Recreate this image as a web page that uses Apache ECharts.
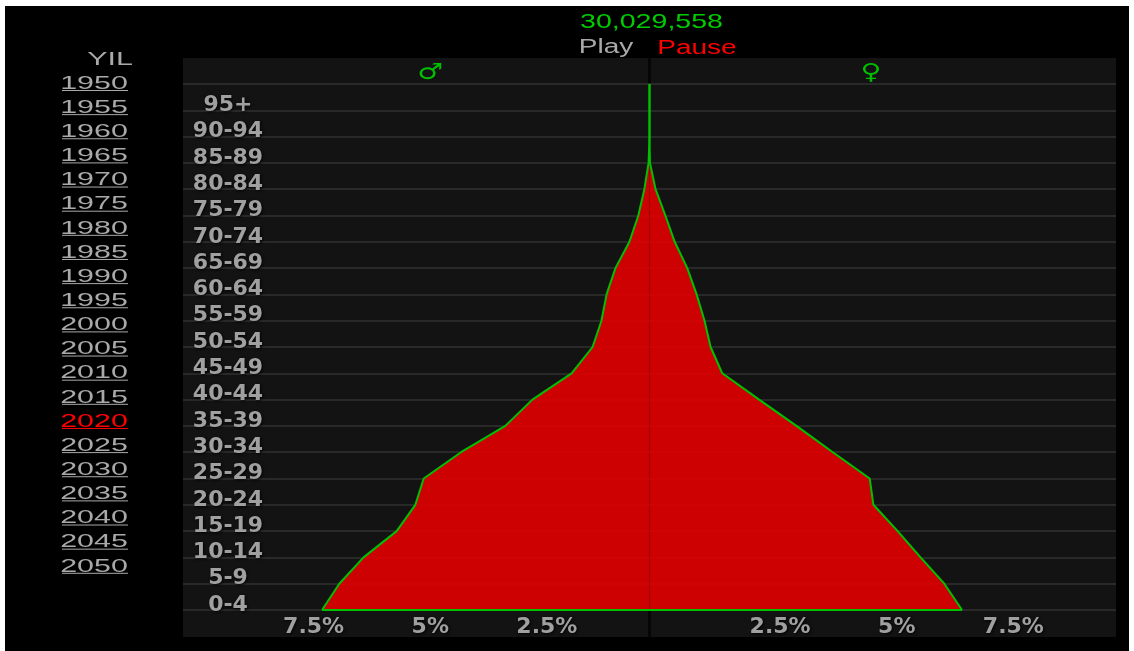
<!DOCTYPE html>
<html>
<head>
<meta charset="utf-8">
<title>Nüfus piramidi</title>
<script src="https://cdn.jsdelivr.net/npm/echarts@6/dist/echarts.min.js"></script>
<style>
  html, body { margin: 0; padding: 0; background: #fff; }
  #pyramid { position: absolute; left: 5px; top: 6px; width: 1124px; height: 645px; }
</style>
</head>
<body>
<div id="pyramid"></div>
<script>
// yaş grubu başlangıçları, 100 = üst kapanış noktası
const agePoints = [0, 5, 10, 15, 20, 25, 30, 35, 40, 45, 50, 55, 60, 65, 70, 75, 80, 85, 90, 95, 100];
const ageGroups = ['0-4', '5-9', '10-14', '15-19', '20-24', '25-29', '30-34', '35-39', '40-44', '45-49',
  '50-54', '55-59', '60-64', '65-69', '70-74', '75-79', '80-84', '85-89', '90-94', '95+'];
// toplam nüfusa oranı (%)
const malePct = [7.02, 6.65, 6.13, 5.42, 5.02, 4.84, 4.04, 3.09, 2.51, 1.67, 1.22, 1.03, 0.92, 0.73, 0.43, 0.24, 0.11, 0.02, 0, 0, 0];
const femalePct = [6.70, 6.32, 5.81, 5.32, 4.80, 4.72, 3.93, 3.15, 2.35, 1.56, 1.31, 1.18, 1.01, 0.81, 0.54, 0.34, 0.13, 0.01, 0, 0, 0];
const xTickValues = [-7.5, -5, -2.5, 2.5, 5, 7.5];
const xTickLabels = ['7.5%', '5%', '2.5%', '2.5%', '5%', '7.5%'];
const years = [1950, 1955, 1960, 1965, 1970, 1975, 1980, 1985, 1990, 1995, 2000,
  2005, 2010, 2015, 2020, 2025, 2030, 2035, 2040, 2045, 2050];
const currentYear = 2020;
const totalPop = '30,029,558';

const chart = echarts.init(document.getElementById('pyramid'));

const labelStyle = {
  color: '#a0a0a0',
  fontFamily: 'DejaVu Sans',
  fontWeight: 'bold',
  fontSize: 22,
  textShadowColor: 'rgba(0,0,0,0.9)',
  textShadowBlur: 3,
  textShadowOffsetX: 1,
  textShadowOffsetY: 1
};

// sol taraftaki yıl listesi
const yearItems = [];
years.forEach(function (yr, i) {
  const y = 77.5 + i * 24.14;
  const c = yr === currentYear ? '#ff0000' : '#a9a9a9';
  yearItems.push({
    type: 'text', x: 89, y: y, scaleX: 1.6, z: 10,
    style: { text: String(yr), fill: c, fontSize: 19, fontFamily: 'Liberation Sans', align: 'center', verticalAlign: 'middle' }
  });
  yearItems.push({
    type: 'line', z: 10,
    shape: { x1: 57, y1: y + 7, x2: 123, y2: y + 7 },
    style: { stroke: c, lineWidth: 1 }
  });
});

const option = {
  backgroundColor: '#000',
  animation: false,
  grid: { left: 178, right: 13, top: 78, bottom: 41 },
  xAxis: {
    type: 'value',
    min: -10,
    max: 10,
    interval: 2.5,
    axisLine: { show: false },
    axisTick: { show: false },
    splitLine: { show: false },
    axisLabel: Object.assign({}, labelStyle, {
      margin: 6,
      padding: [0, 0, 0, 28],
      formatter: function (v) {
        const i = xTickValues.indexOf(v);
        return i < 0 ? '' : xTickLabels[i];
      }
    })
  },
  yAxis: {
    type: 'category',
    boundaryGap: false,
    data: agePoints.map(String),
    axisLine: { show: false, onZero: false },
    axisTick: { show: false },
    splitLine: { show: true, interval: 0, lineStyle: { color: '#323232', width: 1.5 } },
    axisLabel: Object.assign({}, labelStyle, {
      inside: true,
      margin: 45,
      align: 'center',
      verticalAlign: 'bottom',
      lineHeight: 10,
      interval: 0,
      formatter: function (v, idx) { return ageGroups[idx] || ''; }
    })
  },
  graphic: [
    { type: 'rect', z: -10, shape: { x: 178, y: 52, width: 933, height: 579 }, style: { fill: '#131313' } },
    { type: 'line', z: -9, shape: { x1: 644.5, y1: 52, x2: 644.5, y2: 631 }, style: { stroke: '#060606', lineWidth: 3 } },
    {
      type: 'text', x: 646.5, y: 16, scaleX: 1.36, z: 10,
      style: { text: totalPop, fill: '#00cc00', fontSize: 21, fontFamily: 'Liberation Sans', align: 'center', verticalAlign: 'middle' }
    },
    {
      type: 'text', x: 601, y: 41.5, scaleX: 1.4, z: 10,
      style: { text: 'Play', fill: '#a9a9a9', fontSize: 20, fontFamily: 'Liberation Sans', align: 'center', verticalAlign: 'middle' }
    },
    {
      type: 'text', x: 692, y: 42, scaleX: 1.4, z: 10,
      style: { text: 'Pause', fill: '#ff0000', fontSize: 20, fontFamily: 'Liberation Sans', align: 'center', verticalAlign: 'middle' }
    },
    {
      type: 'text', x: 425, y: 67.5, scaleX: 1.3, z: 10,
      style: { text: '♂', fill: '#00c000', fontSize: 22, fontWeight: 'bold', fontFamily: 'DejaVu Sans', align: 'center', verticalAlign: 'middle' }
    },
    {
      type: 'text', x: 866, y: 67.5, scaleX: 1.3, z: 10,
      style: { text: '♀', fill: '#00c000', fontSize: 22, fontWeight: 'bold', fontFamily: 'DejaVu Sans', align: 'center', verticalAlign: 'middle' }
    },
    {
      type: 'text', x: 105, y: 54, scaleX: 1.6, z: 10,
      style: { text: 'YIL', fill: '#a9a9a9', fontSize: 19, fontFamily: 'Liberation Sans', align: 'center', verticalAlign: 'middle' }
    }
  ].concat(yearItems),
  series: [
    {
      name: 'Erkek',
      type: 'line',
      data: malePct.map(function (v) { return -v; }),
      symbol: 'none',
      lineStyle: { color: '#00c000', width: 2 },
      areaStyle: { color: '#dd0000', opacity: 0.92 },
      emphasis: { disabled: true },
      markLine: {
        silent: true,
        symbol: ['none', 'none'],
        label: { show: false },
        lineStyle: { color: '#00c000', width: 2, type: 'solid' },
        data: [[{ coord: [-malePct[0], String(agePoints[0])] }, { coord: [femalePct[0], String(agePoints[0])] }]]
      }
    },
    {
      name: 'Kadın',
      type: 'line',
      data: femalePct,
      symbol: 'none',
      lineStyle: { color: '#00c000', width: 2 },
      areaStyle: { color: '#dd0000', opacity: 0.92 },
      emphasis: { disabled: true }
    }
  ]
};

chart.setOption(option);
</script>
</body>
</html>
